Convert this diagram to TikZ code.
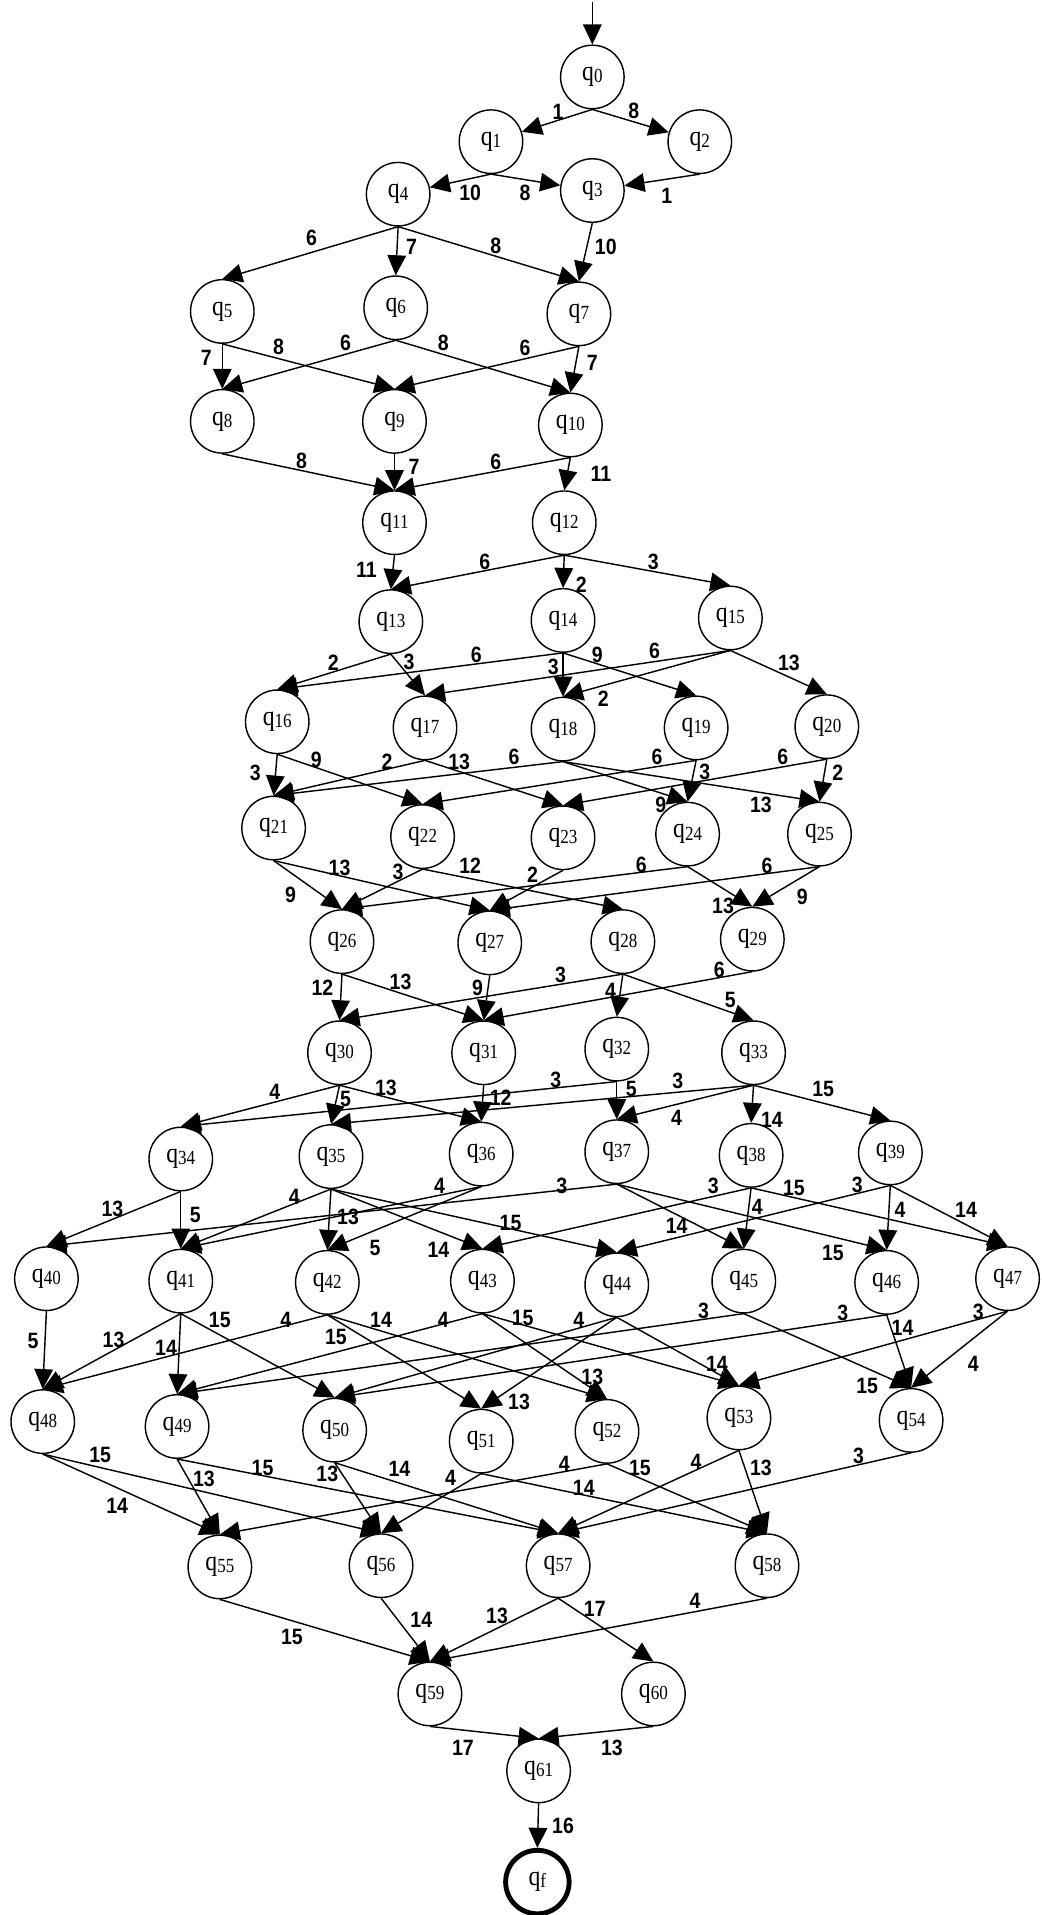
\documentclass[tikz,border=0pt]{standalone}
\usepackage{fontspec}
\setmainfont{Liberation Serif}
\newfontfamily\statefont[FakeStretch=0.85]{Liberation Serif}
\newfontfamily\weightfont[FakeStretch=0.88]{Liberation Sans}
\usetikzlibrary{arrows.meta}

\newcommand{\qlab}[1]{{\fontsize{19.5pt}{19.5pt}\selectfont q}{\fontsize{14pt}{14pt}\selectfont\raisebox{-1.5pt}{#1}}}

\begin{document}
\begin{tikzpicture}[
    x=0.03cm, y=-0.03cm,
    qnode/.style={draw, circle, line width=1pt, minimum size=1.56cm, inner sep=0pt, font=\statefont},
    qfinal/.style={qnode, line width=3.4pt},
    trans/.style={line width=1pt, -{Triangle[length=14pt, width=13pt]}},
    wt/.style={font=\weightfont\bfseries\fontsize{15.5pt}{15.5pt}\selectfont, inner sep=0pt},
]
\useasboundingbox (0,0) rectangle (853,1568);

% ---------------- states
\foreach \n/\x/\y in {0/485/63, 1/402/116, 2/573/116, 3/485/156, 4/326/159,
    5/182/255, 6/324/252, 7/474/257, 8/182/345, 9/323/345, 10/467/348,
    11/323/428, 12/462/428, 13/320/509, 14/461/508, 15/598/506,
    16/227/591, 17/348/596, 18/461/597, 19/570/596, 20/677/595,
    21/224/678, 22/346/685, 23/461/686, 24/563/683, 25/671/683,
    26/280/771, 27/401/772, 28/510/771, 29/616/769,
    30/278/862, 31/396/862, 32/505/859, 33/617/862,
    34/148/949, 35/271/947, 36/394/945, 37/505/943, 38/615/946, 39/729/944,
    40/38/1047, 41/148/1049, 42/268/1050, 43/395/1049, 44/505/1052,
    45/609/1049, 46/726/1050, 47/825/1047,
    48/35/1164, 49/145/1168, 50/274/1171, 51/394/1180, 52/497/1172,
    53/605/1161, 54/746/1163,
    55/180/1283, 56/312/1282, 57/457/1282, 58/628/1282,
    59/352/1387, 60/535/1387, 61/441/1450}{
    \node[qnode] (q\n) at (\x,\y) {\qlab{\n}};
}
\node[qfinal] (qf) at (440,1541) {\qlab{f}};

% the way in
\coordinate (start) at (485,2);
\draw[trans] (start) -- (q0);

% ---------------- first rows, tips on the border
\foreach \a/\b/\w/\lx/\ly in {0/1/1/457/92, 0/2/8/519/91, 1/4/10/385/158,
    1/3/8/430/158, 2/3/1/546/160}{
    \draw[trans] (q\a.south) -- (q\b) node[wt] (w\a-\b) at (\lx,\ly) {\w};
}

% ---------------- the rest, bottom of one to top of the next
\foreach \a/\b/\w/\lx/\ly in {3/7/10/496/202,
    4/5/6/255/195, 4/6/7/337/202, 4/7/8/406/201,
    5/8/7/169/293, 5/9/8/228/284, 6/8/6/283/281, 6/10/8/363/281,
    7/9/6/430/285, 7/10/7/485/297,
    8/11/8/247/377, 9/11/7/339/382, 10/11/6/406/378, 10/12/11/492/388,
    11/13/11/300/467, 12/13/6/397/460, 12/14/2/476/479, 12/15/3/535/460,
    13/16/2/273/543, 13/17/3/335/542, 14/16/6/390/536, 14/18/3/453/546,
    14/19/9/489/536, 15/17/6/536/533, 15/18/2/494/572, 15/20/13/646/543,
    16/21/3/209/633, 16/22/9/259/622, 17/21/2/317/624, 17/23/13/376/624,
    18/21/6/421/620, 18/24/9/541/659, 18/25/13/623/659, 19/22/6/538/620,
    19/24/3/577/632, 20/23/6/641/620, 20/25/2/686/633,
    21/26/9/238/733, 21/27/13/278/711, 22/26/3/326/714, 22/28/12/385/709,
    23/27/2/436/716, 24/26/6/525/708, 24/29/13/592/742, 25/27/6/628/709,
    25/29/9/657/734,
    26/30/12/264/809, 26/31/13/328/804, 27/31/9/391/809, 28/30/3/459/798,
    28/32/4/500/811, 28/33/5/598/819, 29/31/6/589/794,
    30/34/4/225/894, 30/35/5/283/900, 30/36/13/316/891, 31/36/12/410/899,
    32/34/3/455/884, 32/37/5/517/892, 33/35/3/555/885, 33/37/4/554/915,
    33/38/14/632/917, 33/39/15/674/892,
    34/40/13/92/990, 34/41/5/160/995, 35/41/4/241/980, 35/42/13/285/996,
    35/43/14/359/1023, 35/44/15/418/1001, 36/41/4/360/971, 36/42/5/307/1022,
    37/40/3/460/971, 37/45/14/554/1004, 37/46/15/682/1026, 38/43/3/584/971,
    38/45/4/620/988, 38/47/15/650/973, 39/44/3/702/970, 39/46/4/737/991,
    39/47/14/791/991,
    40/48/5/27/1098, 41/48/13/93/1097, 41/49/14/136/1104, 41/50/15/180/1081,
    42/48/4/234/1081, 42/51/15/275/1095, 42/52/14/312/1081,
    43/49/4/363/1081, 43/52/13/485/1127, 43/53/15/428/1079,
    44/50/4/474/1081, 44/51/13/425/1148, 44/53/14/587/1117,
    45/49/3/576/1073, 45/54/15/710/1135, 46/50/3/690/1075, 46/54/14/739/1087,
    47/53/3/801/1074, 47/54/4/797/1117,
    48/55/14/96/1233, 48/56/15/82/1191, 49/55/13/167/1211, 49/57/15/215/1202,
    50/56/13/268/1207, 50/57/14/327/1203, 51/56/4/369/1210, 51/58/14/478/1218,
    52/55/4/462/1199, 52/58/15/524/1202, 53/57/4/570/1197, 53/58/13/623/1202,
    54/57/3/703/1192,
    55/59/15/239/1340, 56/59/14/345/1326, 57/59/13/407/1323, 57/60/17/487/1317,
    58/59/4/569/1311,
    59/61/17/379/1431, 60/61/13/501/1431, 61/f/16/461/1495}{
    \draw[trans] (q\a.south) -- (q\b.north) node[wt] (w\a-\b) at (\lx,\ly) {\w};
}
\end{tikzpicture}
\end{document}
